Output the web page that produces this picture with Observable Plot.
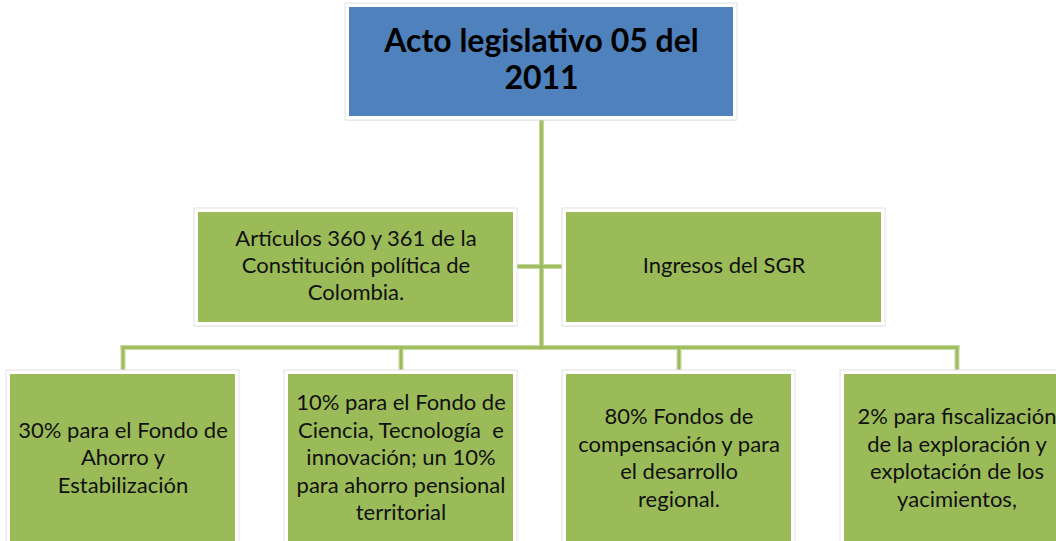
<!DOCTYPE html>
<html>
<head>
<meta charset="utf-8">
<script src="https://cdn.jsdelivr.net/npm/d3@7"></script>
<script src="https://cdn.jsdelivr.net/npm/@observablehq/plot@0.6"></script>
<style>
  html, body { margin: 0; padding: 0; background: #fff; overflow: hidden; }
  #chart svg { display: block; }
</style>
</head>
<body>
<div id="chart"></div>
<script>
// ---- Content ----
const rootLabel = "Acto legislativo 05 del\n2011";
const middleLabels = [
  "Artículos 360 y 361 de la\nConstitución política de\nColombia.",
  "Ingresos del SGR"
];
const bottomLabels = [
  "30% para el Fondo de\nAhorro y\nEstabilización",
  "10% para el Fondo de\nCiencia, Tecnología  e\ninnovación; un 10%\npara ahorro pensional\nterritorial",
  "80% Fondos de\ncompensación y para\nel desarrollo\nregional.",
  "2% para fiscalización\nde la exploración y\nexplotación de los\nyacimientos,"
];

// ---- Layout (computed in code) ----
const W = 1056, H = 541;
const trunkX = 541;
const rootBox = {x1: 349, x2: 733, y1: 7, y2: 116, fill: "#4F81BD", label: rootLabel};
const midY1 = 212, midY2 = 322;
const midEdges = [[198, 513], [566, 881]];
const midBoxes = middleLabels.map((label, i) => ({x1: midEdges[i][0], x2: midEdges[i][1], y1: midY1, y2: midY2, fill: "#9BBB59", label}));
const botW = 225, botStep = 278, botC0 = 122.5, botY1 = 374, botY2 = 543;
const botBoxes = bottomLabels.map((label, i) => {
  const c = botC0 + i * botStep;
  return {x1: c - botW / 2, x2: c + botW / 2, y1: botY1, y2: botY2, fill: "#9BBB59", label, cx: c};
});
const boxes = [rootBox, ...midBoxes, ...botBoxes];

const busY = 347;
const midY = (midY1 + midY2) / 2 - 1;
const segments = [
  {x1: trunkX, y1: rootBox.y2 + 4, x2: trunkX, y2: busY},
  {x1: midBoxes[0].x2 + 2, y1: midY, x2: trunkX, y2: midY},
  {x1: trunkX, y1: midY, x2: midBoxes[1].x1 - 2, y2: midY},
  {x1: botBoxes[0].cx, y1: busY, x2: botBoxes[3].cx, y2: busY},
  ...botBoxes.map(b => ({x1: b.cx, y1: busY, x2: b.cx, y2: b.y1 - 3}))
];

const font = "Lato, 'Open Sans', sans-serif";

const chart = Plot.plot({
  width: W,
  height: H,
  margin: 0,
  x: {domain: [0, W], range: [0, W], axis: null},
  y: {domain: [0, H], range: [0, H], axis: null},
  style: {background: "#fff", fontFamily: font},
  marks: [
    // connectors
    Plot.link(segments, {x1: "x1", y1: "y1", x2: "x2", y2: "y2", stroke: "#C3D69B", strokeWidth: 5, strokeLinecap: "square"}),
    Plot.link(segments, {x1: "x1", y1: "y1", x2: "x2", y2: "y2", stroke: "#9BBB59", strokeWidth: 2.5, strokeLinecap: "square"}),
    // shadows
    Plot.rect(boxes, {x1: d => d.x1 - 2, x2: d => d.x2 + 3, y1: d => d.y1 - 1, y2: d => d.y2 + 5, fill: "#000", fillOpacity: 0.06}),
    Plot.rect(boxes, {x1: d => d.x1 - 1, x2: d => d.x2 + 2, y1: d => d.y1, y2: d => d.y2 + 3, fill: "#000", fillOpacity: 0.12}),
    // white frame
    Plot.rect(boxes, {x1: d => d.x1 - 4, x2: d => d.x2 + 4, y1: d => d.y1 - 4, y2: d => d.y2 + 4, fill: "#fff", stroke: "#e2e2e2", strokeWidth: 1}),
    // boxes
    Plot.rect(boxes, {x1: "x1", x2: "x2", y1: "y1", y2: "y2", fill: "fill"}),
    // labels
    Plot.text([rootBox], {x: d => (d.x1 + d.x2) / 2, y: d => (d.y1 + d.y2) / 2 - 3, text: "label", fontSize: 32, fontWeight: "bold", lineHeight: 1.16, fill: "#000", letterSpacing: 0.2}),
    Plot.text(midBoxes, {x: d => (d.x1 + d.x2) / 2, y: d => (d.y1 + d.y2) / 2 - 3, text: "label", fontSize: 22, lineHeight: 1.23, fill: "#111", letterSpacing: 0.3}),
    Plot.text(botBoxes, {x: d => d.cx, y: 456, text: "label", fontSize: 22, lineHeight: 1.25, fill: "#111", letterSpacing: 0.3})
  ]
});
document.getElementById("chart").appendChild(chart);
</script>
</body>
</html>
